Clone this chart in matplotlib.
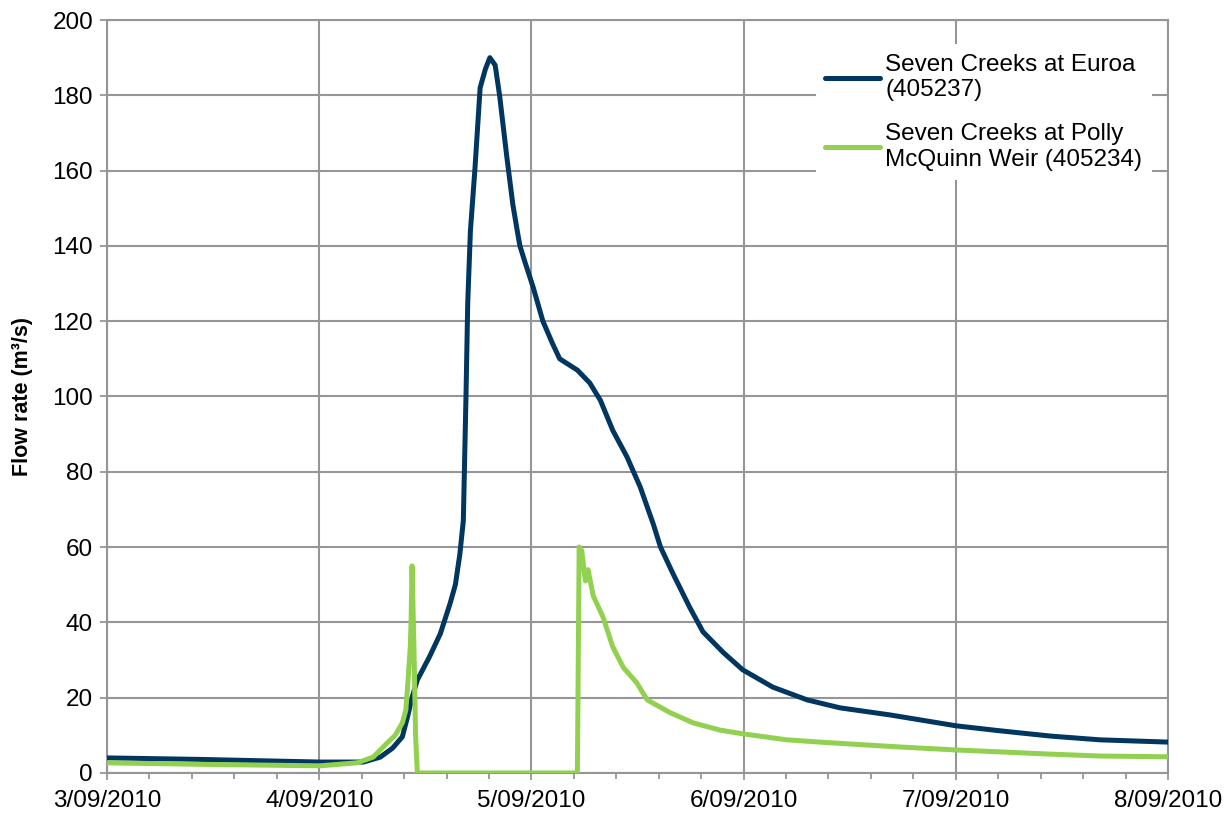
import matplotlib
matplotlib.use("Agg")
import matplotlib.pyplot as plt
import matplotlib.dates as mdates
from matplotlib.ticker import FuncFormatter, MultipleLocator
import datetime as dt

plt.rcParams['font.family'] = ['Liberation Sans', 'DejaVu Sans']

start = dt.datetime(2010, 9, 3)

# hours since 3/09/2010 00:00 and flow (m3/s)
euroa_hours = [0, 10.5, 24.1, 29.0, 30.9, 32.3, 33.4, 34.0, 34.5, 35.1, 36.5,
               37.7, 38.8, 39.4, 39.9, 40.3, 40.6, 40.8, 41.1, 41.6, 42.2, 42.8,
               43.3, 43.9, 44.4, 45.2, 45.9, 46.4, 46.7, 47.3, 48.2, 49.3, 50.4,
               51.2, 53.2, 54.6, 55.8, 57.2, 58.8, 60.3, 61.8, 62.6, 64.0, 65.9,
               67.4, 69.7, 71.9, 75.3, 79.2, 82.9, 88.6, 96.1, 101.0, 106.7,
               112.3, 120.0]
euroa_flow = [4.0, 3.6, 2.9, 2.9, 4.2, 6.6, 9.6, 15, 20, 24.7, 31,
              37, 45, 50, 58, 67, 100, 125, 144, 160, 182, 187,
              190, 188, 180, 164, 151, 144, 140, 135.5, 129, 120, 114,
              110, 107, 103.6, 99, 91, 84, 76, 66, 60, 53, 44,
              37.5, 32, 27.4, 22.8, 19.4, 17.3, 15.4, 12.5, 11.2, 9.8,
              8.8, 8.2]

polly_hours = [0, 10.5, 24.1, 28.3, 30.1, 31.7, 32.6, 33.4, 33.8, 34.0, 34.3,
               34.4, 34.5, 34.7, 34.9, 35.1, 53.2, 53.4, 53.7, 54.1, 54.4, 55.0,
               56.1, 57.2, 58.4, 59.9, 61.1, 63.7, 66.3, 69.3, 71.9, 76.9, 80.6,
               84.0, 89.7, 96.1, 101.0, 106.7, 112.3, 120.0]
polly_flow = [2.7, 2.3, 1.9, 2.7, 4.2, 8, 10, 13.3, 16.7, 23, 33.5,
              41, 55, 35, 10, 0, 0, 60, 59, 51, 54, 47,
              41.4, 33.5, 28, 24, 19.4, 16, 13.3, 11.4, 10.4, 8.8, 8.2,
              7.7, 6.9, 6.1, 5.6, 5.0, 4.5, 4.3]

series_labels = ["Seven Creeks at Euroa\n(405237)",
                 "Seven Creeks at Polly\nMcQuinn Weir (405234)"]
y_label = "Flow rate (m³/s)"

euroa_t = [start + dt.timedelta(hours=h) for h in euroa_hours]
polly_t = [start + dt.timedelta(hours=h) for h in polly_hours]

fig = plt.figure(figsize=(12.3, 8.17), dpi=100)
ax = fig.add_axes([0.087, 0.0539, 0.8626, 0.9216])

grid_c = '#969696'
ax.plot(euroa_t, euroa_flow, color='#003660', lw=3.6, label=series_labels[0],
        solid_joinstyle='round', solid_capstyle='round', zorder=3)
ax.plot(polly_t, polly_flow, color='#92D050', lw=3.6, label=series_labels[1],
        solid_joinstyle='round', solid_capstyle='round', zorder=4)

ax.set_xlim(start, start + dt.timedelta(days=5))
ax.set_ylim(0, 200)
ax.yaxis.set_major_locator(MultipleLocator(20))
ax.xaxis.set_major_locator(mdates.DayLocator())
ax.xaxis.set_minor_locator(mdates.MinuteLocator(interval=288))
ax.xaxis.set_major_formatter(FuncFormatter(
    lambda v, p: "%d/%02d/%d" % (mdates.num2date(v).day, mdates.num2date(v).month,
                                 mdates.num2date(v).year)))

ax.grid(True, which='major', color=grid_c, lw=1.5)
ax.set_axisbelow(True)
for s in ax.spines.values():
    s.set_color(grid_c)
    s.set_linewidth(1.5)
ax.tick_params(axis='both', which='major', length=5, width=1.3, color=grid_c,
               labelsize=17.5, pad=5)
ax.tick_params(axis='x', which='major', pad=7)
ax.tick_params(axis='x', which='minor', length=4.5, width=1.3, color=grid_c)

ax.set_ylabel(y_label, fontsize=15.5, fontweight='bold', labelpad=14)

leg = ax.legend(loc='upper left', bbox_to_anchor=(0.668, 0.968), fontsize=17.5,
                frameon=True, fancybox=False, edgecolor='white', framealpha=1,
                handlelength=2.25, borderpad=0.4, labelspacing=0.9,
                handletextpad=0.2, borderaxespad=0)
leg.get_frame().set_linewidth(0)

fig.savefig("out.png", dpi=100)
